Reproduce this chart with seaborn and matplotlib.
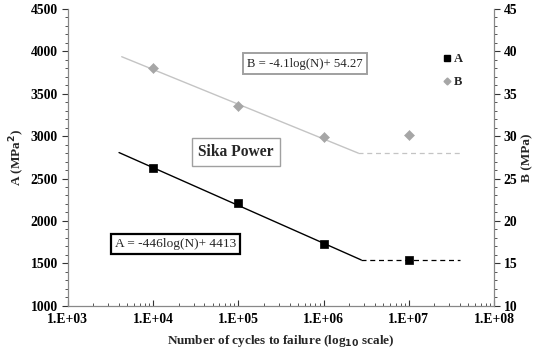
import numpy as np
import pandas as pd
import seaborn as sns
import matplotlib
matplotlib.use("Agg")
import matplotlib.pyplot as plt
from matplotlib.lines import Line2D
from matplotlib.ticker import MultipleLocator, LogLocator, NullFormatter

# Test results (cycles to failure) for the two fatigue parameters
cycles = [1e4, 1e5, 1e6, 1e7]
a_values = [2620, 2210, 1725, 1535]
b_values = [38.0, 33.5, 29.9, 30.1]

# Basquin-type fits and endurance limits
a_slope, a_intercept = -446, 4413
b_slope, b_intercept = -4.1, 54.27
a_limit = 1540
b_limit = 28.0
a_fit_start, b_fit_start = 4.0e3, 4.3e3
limit_end = 4.0e7

sns.set_theme(style="ticks")
plt.rcParams["font.family"] = ["Liberation Serif", "DejaVu Serif"]

fig = plt.figure(figsize=(5.33, 3.53), dpi=100)
ax = fig.add_axes([0.127, 0.134, 0.800, 0.8405])
ax2 = ax.twinx()

a_color = "black"
b_color = "#a6a6a6"
b_line = "#c4c4c4"

# Fitted lines
a_knee = 10 ** ((a_limit - a_intercept) / a_slope)
b_knee = 10 ** ((b_limit - b_intercept) / b_slope)
na = np.logspace(np.log10(a_fit_start), np.log10(a_knee), 30)
nb = np.logspace(np.log10(b_fit_start), np.log10(b_knee), 30)
fit_a = pd.DataFrame({"N": na, "v": a_slope * np.log10(na) + a_intercept})
fit_b = pd.DataFrame({"N": nb, "v": b_slope * np.log10(nb) + b_intercept})
sns.lineplot(data=fit_a, x="N", y="v", ax=ax, color=a_color, lw=1.0)
sns.lineplot(data=fit_b, x="N", y="v", ax=ax2, color=b_line, lw=1.0)

# Endurance limits
lim_a = pd.DataFrame({"N": [a_knee, limit_end], "v": [a_limit, a_limit]})
lim_b = pd.DataFrame({"N": [b_knee, limit_end], "v": [b_limit, b_limit]})
sns.lineplot(data=lim_a, x="N", y="v", ax=ax, color=a_color, lw=0.9, linestyle=(0, (4, 3)))
sns.lineplot(data=lim_b, x="N", y="v", ax=ax2, color=b_line, lw=0.9, linestyle=(0, (4, 3)))

# Measured points
pts = pd.DataFrame({"N": cycles, "A": a_values, "B": b_values})
sns.scatterplot(data=pts, x="N", y="A", ax=ax, marker="s", s=38, color=a_color,
                edgecolor=a_color, zorder=5)
sns.scatterplot(data=pts, x="N", y="B", ax=ax2, marker="D", s=26, color=b_color,
                edgecolor=b_color, zorder=5)

ax.set_xscale("log")
ax.set_xlim(1e3, 1e8)
ax.set_ylim(1000, 4500)
ax2.set_ylim(10, 45)

ax.set_xticks([1e3, 1e4, 1e5, 1e6, 1e7, 1e8])
ax.set_xticklabels(["1.E+03", "1.E+04", "1.E+05", "1.E+06", "1.E+07", "1.E+08"])
ax.xaxis.set_minor_locator(LogLocator(base=10, subs=np.arange(2, 10)))
ax.xaxis.set_minor_formatter(NullFormatter())
ax.yaxis.set_major_locator(MultipleLocator(500))
ax.yaxis.set_minor_locator(MultipleLocator(100))
ax2.yaxis.set_major_locator(MultipleLocator(5))
ax2.yaxis.set_minor_locator(MultipleLocator(1))

tick_kw = dict(labelsize=9.8, colors="#333333", labelcolor="black", width=0.8)
ax.tick_params(axis="x", which="major", direction="in", length=4, pad=5, **tick_kw)
ax.tick_params(axis="x", which="minor", direction="in", length=2.5, width=0.7, colors="#555555")
ax.tick_params(axis="y", which="major", direction="out", length=4, pad=3, **tick_kw)
ax.tick_params(axis="y", which="minor", direction="out", length=2.5, width=0.7, colors="#555555")
ax2.tick_params(axis="y", which="major", direction="out", length=4, pad=3, **tick_kw)
ax2.tick_params(axis="y", which="minor", direction="out", length=2.5, width=0.7, colors="#555555")
for t in ax.get_xticklabels() + ax.get_yticklabels() + ax2.get_yticklabels():
    t.set_fontweight("bold")

ax.set_xlabel("Number of cycles to failure (log$_{\\mathbf{10}}$ scale)", fontsize=9.5,
              fontweight="bold", labelpad=5)
ax.set_ylabel("A (MPa$^{\\mathbf{2}}$)", fontsize=9.5, fontweight="bold", labelpad=3)
ax2.set_ylabel("B (MPa)", fontsize=9.5, fontweight="bold", labelpad=3)

for a in (ax, ax2):
    a.spines["top"].set_visible(False)
    for s in ("left", "right", "bottom"):
        a.spines[s].set_color("#888888")
        a.spines[s].set_linewidth(0.9)
ax.spines["right"].set_visible(False)
ax2.spines["left"].set_visible(False)
ax2.spines["bottom"].set_visible(False)

# Annotations
ax.text(0.557, 0.815, "B = -4.1log(N)+ 54.27", transform=ax.transAxes, ha="center", va="center",
        fontsize=9.2, bbox=dict(boxstyle="square,pad=0.35", fc="white", ec="#a0a0a0", lw=1.4),
        zorder=10)
ax.text(0.395, 0.518, "Sika Power", transform=ax.transAxes, ha="center", va="center",
        fontsize=11.2, fontweight="bold",
        bbox=dict(boxstyle="square,pad=0.4", fc="white", ec="#a0a0a0", lw=1.0), zorder=10)
ax.text(0.252, 0.208, "A = -446log(N)+ 4413", transform=ax.transAxes, ha="center", va="center",
        fontsize=9.6, bbox=dict(boxstyle="square,pad=0.3", fc="white", ec="black", lw=1.6),
        zorder=10)

handles = [
    Line2D([], [], marker="s", ls="none", color=a_color, markersize=5),
    Line2D([], [], marker="D", ls="none", color=b_color, markersize=3.5),
]
leg = ax2.legend(handles, ["A", "B"], loc="upper left", bbox_to_anchor=(0.845, 0.89),
                 frameon=False, handletextpad=0.0, labelspacing=0.9, handlelength=1.2,
                 prop={"weight": "bold", "size": 9})

fig.savefig("out.png", dpi=100)
